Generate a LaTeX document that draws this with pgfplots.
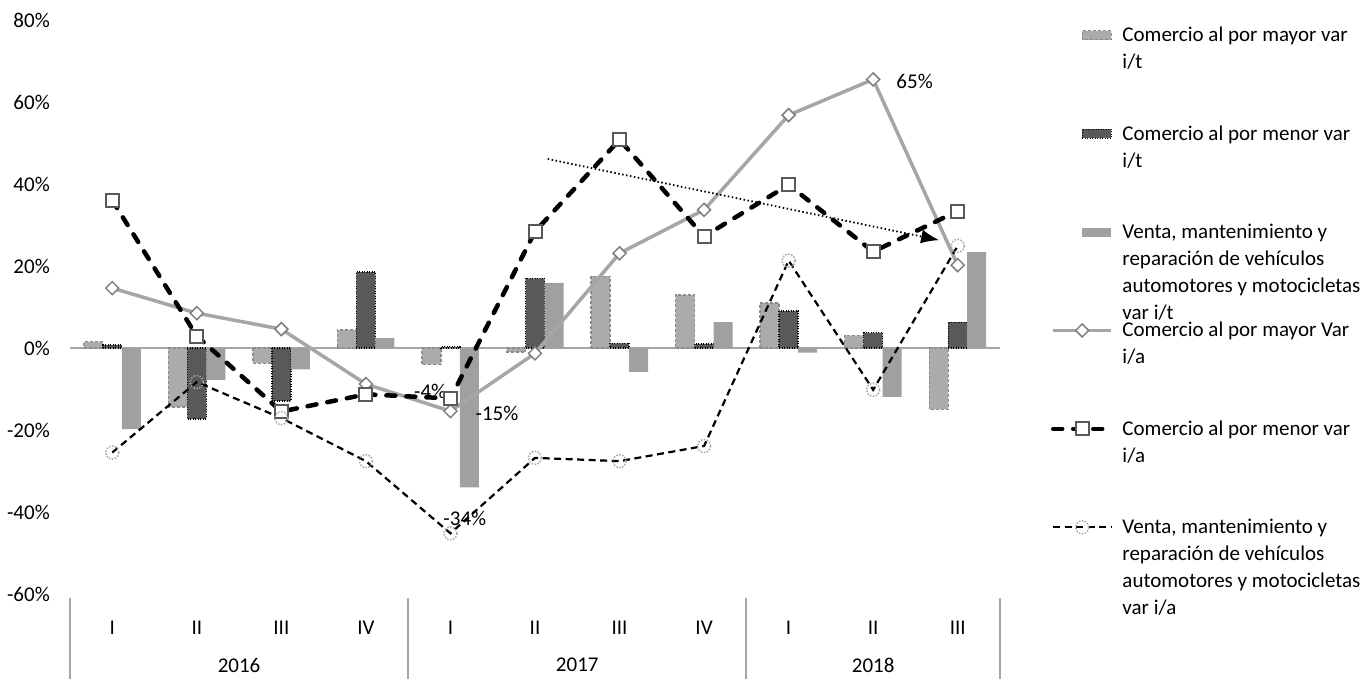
\documentclass[border=0pt]{standalone}
\usepackage{fontspec}
\setmainfont{Carlito}
\usepackage{pgfplots}
\pgfplotsset{compat=1.18}
\usetikzlibrary{arrows.meta}
\definecolor{mayorbar}{HTML}{ABABAB}
\definecolor{mayoredge}{HTML}{8C8C8C}
\definecolor{menorbar}{HTML}{595959}
\definecolor{ventabar}{HTML}{A0A0A0}
\definecolor{mayorline}{HTML}{A6A6A6}
\definecolor{mayormark}{HTML}{7F7F7F}
\definecolor{menormark}{HTML}{595959}
\definecolor{ventamark}{HTML}{A6A6A6}
\definecolor{axisgray}{HTML}{A6A6A6}
\pgfplotsset{linelegend/.style={legend image code/.code={\draw[mark repeat=2, mark phase=2, ##1] plot coordinates {(0pt,6.5pt) (29pt,6.5pt) (58pt,6.5pt)};}}}
\newcommand{\legtext}[1]{\parbox[t]{246pt}{\raggedright\strut #1}}
\newcommand{\tickfont}{\fontsize{21}{25}\selectfont}
\begin{document}
\begin{tikzpicture}
\begin{axis}[
  scale only axis, width=930pt, height=574pt,
  xmin=-0.5, xmax=10.5, ymin=-60, ymax=80,
  clip=false,
  axis x line*=bottom, axis y line*=left,
  axis line style={draw=none},
  tick style={draw=none}, major tick length=0pt,
  ytick={-60,-40,-20,0,20,40,60,80},
  yticklabels={-60\%,-40\%,-20\%,0\%,20\%,40\%,60\%,80\%},
  yticklabel style={anchor=east, inner sep=0pt, xshift=-20pt, font=\tickfont},
  xtick={0,1,2,3,4,5,6,7,8,9,10},
  xticklabels={I,II,III,IV,I,II,III,IV,I,II,III},
  xticklabel style={anchor=center, inner sep=0pt, yshift=-34pt, font=\tickfont},
  extra x ticks={1.5,5.5,9},
  extra x tick labels={2016,2017,2018},
  extra x tick style={xticklabel style={yshift=-37pt}},
  legend style={at={(1.0548,0.9956)}, anchor=north west, draw=none, fill=none,
    inner sep=0pt, outer sep=0pt, row sep=0pt,
    font=\fontsize{21}{27}\selectfont,
    cells={anchor=base west},
    nodes={inner sep=0pt, text height=19.25pt, text depth=79.15pt},
    /tikz/every odd column/.append style={column sep=9pt}},
]
\draw[axisgray, line width=2pt] (axis cs:-0.5,0) -- (axis cs:10.5,0);
\draw[axisgray, line width=2pt] ([yshift=-4pt]axis cs:-0.5,-60) -- ([yshift=-85pt]axis cs:-0.5,-60);
\draw[axisgray, line width=2pt] ([yshift=-4pt]axis cs:3.5,-60) -- ([yshift=-85pt]axis cs:3.5,-60);
\draw[axisgray, line width=2pt] ([yshift=-4pt]axis cs:7.5,-60) -- ([yshift=-85pt]axis cs:7.5,-60);
\draw[axisgray, line width=2pt] ([yshift=-4pt]axis cs:10.5,-60) -- ([yshift=-85pt]axis cs:10.5,-60);
% bars
\addplot[ybar, bar width=19pt, bar shift=-19pt, fill=mayorbar, draw=mayoredge, line width=1.3pt, dash pattern=on 3pt off 2pt,
  legend image code/.code={\draw[fill=mayorbar, draw=mayoredge, line width=1.3pt, dash pattern=on 3pt off 2pt] (29pt,2pt) rectangle (58pt,11pt);}]
  coordinates {(0,1.5)(1,-14.4)(2,-3.7)(3,4.4)(4,-4.0)(5,-1.0)(6,17.5)(7,12.9)(8,11.0)(9,3.0)(10,-15.0)};
\addlegendentry{\legtext{Comercio al por mayor var i/t}}
\addplot[ybar, bar width=19pt, bar shift=0pt, fill=menorbar, draw=black, line width=1.3pt, dash pattern=on 1pt off 1.5pt,
  legend image code/.code={\draw[fill=menorbar, draw=black, line width=1.3pt, dash pattern=on 1pt off 1.5pt] (29pt,2pt) rectangle (58pt,11pt);}]
  coordinates {(0,0.7)(1,-17.3)(2,-12.9)(3,18.5)(4,0.3)(5,17.0)(6,1.1)(7,1.0)(8,9.0)(9,3.7)(10,6.3)};
\addlegendentry{\legtext{Comercio al por menor var i/t}}
\addplot[ybar, bar width=19pt, bar shift=19pt, fill=ventabar, draw=none,
  legend image code/.code={\fill[ventabar] (29pt,2pt) rectangle (58pt,11pt);}]
  coordinates {(0,-19.8)(1,-7.8)(2,-5.2)(3,2.4)(4,-34.0)(5,15.9)(6,-5.8)(7,6.3)(8,-1.1)(9,-11.9)(10,23.4)};
\addlegendentry{\legtext{Venta, mantenimiento y reparación de vehículos automotores y motocicletas var i/t}}
% lines
\addplot[color=mayorline, line width=3.5pt, mark=square*, mark size=4.6pt,
  mark options={rotate=45, fill=white, draw=mayormark, line width=1.5pt, solid}, linelegend]
  coordinates {(0,14.6)(1,8.5)(2,4.6)(3,-8.8)(4,-15.4)(5,-1.3)(6,23.1)(7,33.7)(8,56.8)(9,65.5)(10,20.2)};
\addlegendentry{\legtext{Comercio al por mayor Var i/a}}
\addplot[color=black, line width=4.5pt, line cap=round, dash pattern=on 9pt off 11pt, mark=square*, mark size=6.5pt,
  mark options={solid, fill=white, draw=menormark, line width=2pt}, linelegend]
  coordinates {(0,36.0)(1,2.9)(2,-15.5)(3,-11.3)(4,-12.3)(5,28.4)(6,50.8)(7,27.2)(8,39.8)(9,23.5)(10,33.4)};
\addlegendentry{\legtext{Comercio al por menor var i/a}}
\addplot[color=black, line width=2.2pt, dash pattern=on 7pt off 4.5pt, mark=o, mark size=6.5pt,
  mark options={draw=ventamark, line width=1.5pt, dash pattern=on 1.5pt off 1.5pt}, linelegend]
  coordinates {(0,-25.5)(1,-8.3)(2,-17.1)(3,-27.6)(4,-45.2)(5,-26.8)(6,-27.6)(7,-23.9)(8,21.3)(9,-10.2)(10,24.9)};
\addlegendentry{\legtext{Venta, mantenimiento y reparación de vehículos automotores y motocicletas var i/a}}
% trend arrow
\addplot[black, line width=1.8pt, dash pattern=on 1.5pt off 2.5pt, -{Latex[length=18pt, width=14pt]}, forget plot]
  coordinates {(5.15,46.1) (9.78,26.3)};
% data labels
\node[font=\tickfont] at (axis cs:9.49,64.9) {65\%};
\node[font=\tickfont] at (axis cs:4.55,-15.9) {-15\%};
\node[font=\tickfont] at (axis cs:3.76,-10.5) {-4\%};
\node[font=\tickfont] at (axis cs:4.17,-41.5) {-34\%};
\end{axis}
\pgfresetboundingbox
\path[use as bounding box] (-70pt,-85pt) rectangle (1293pt,594pt);
\end{tikzpicture}
\end{document}
